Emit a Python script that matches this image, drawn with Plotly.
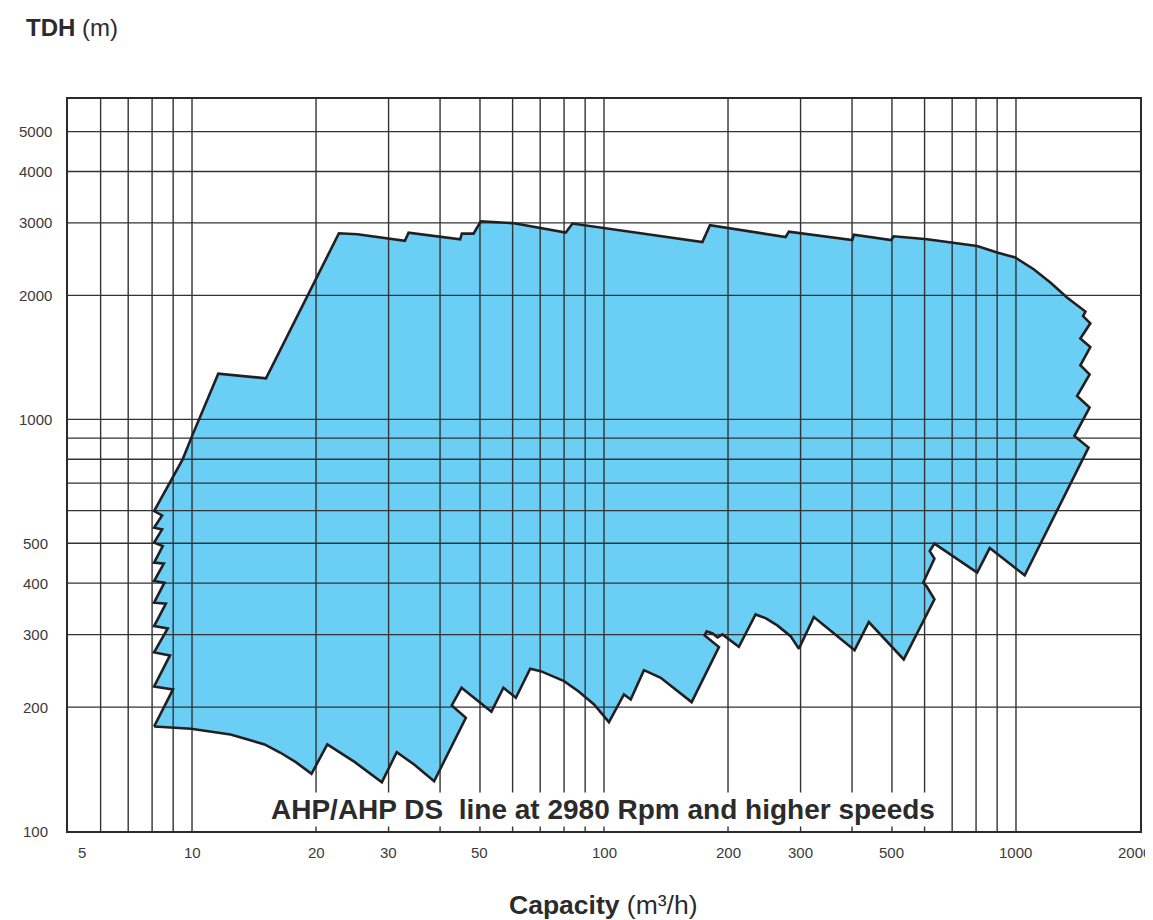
import math
import plotly.graph_objects as go

# ---- Data ----
# Operating envelope outline: capacity (m3/h) and TDH (m), clockwise from lower-left
capacity = [
    8.09, 8.99, 8.09, 8.84, 8.09, 8.73, 8.09, 8.64, 8.09, 8.57, 8.09, 8.54, 8.09, 8.49,
    8.09, 8.46, 8.09, 8.46, 8.09,
    9.49, 10.04, 11.58, 15.12, 22.73, 25.2,
    32.86, 33.55, 44.75, 45.18, 48.23, 50.23, 60.47, 80.76, 83.84, 173.3, 180.8,
    275.9, 281.0, 400.5, 404.1, 498.0, 505.0, 608.6, 706.2, 804.9, 900.0, 996.6,
    1104, 1212, 1330, 1474,
    1455, 1515, 1433, 1515, 1433, 1509, 1407, 1509, 1386, 1500,
    1050, 863.5, 804.9, 634.0, 617.5, 634.0, 595.2, 606.3, 634.0,
    534.0, 439.3, 405.7, 323.1, 297.2, 283.7, 263.4, 246.7, 233.3,
    212.5, 193.8, 188.7, 183.5, 177.5, 175.5, 190.1,
    163.2, 137.3, 125.0, 116.1, 111.8, 102.8, 94.6, 86.8, 80.0, 70.2, 66.2,
    61.1, 57.0, 53.3, 45.1, 42.7, 46.2,
    38.7, 34.6, 31.4, 28.9, 24.8, 21.3, 19.5, 17.9, 16.4, 15.0, 12.4, 9.94,
]
head = [
    179.4, 220.8, 224.5, 267.0, 271.5, 310.5, 314.6, 356.6, 358.6, 401.1, 404.6, 446.0, 448.6, 492.2,
    501.8, 540.3, 545.5, 584.4, 598.7,
    799.5, 919.3, 1291, 1258, 2831, 2816,
    2713, 2842, 2738, 2826, 2826, 3028, 2994, 2842, 2989, 2697, 2961,
    2773, 2858, 2727, 2810, 2727, 2784, 2738, 2688, 2637, 2542, 2472,
    2315, 2149, 1976, 1827,
    1782, 1711, 1571, 1498, 1353, 1286, 1139, 1068, 910.9, 853.8,
    417.8, 486.7, 424.1, 498.9, 478.6, 458.7, 401.1, 393.4, 365.3,
    261.1, 321.7, 275.0, 330.8, 277.2, 297.4, 315.8, 328.9, 335.8,
    280.3, 300.3, 295.3, 302.0, 305.4, 298.6, 279.7,
    205.6, 235.6, 245.9, 208.7, 214.6, 183.8, 203.0, 218.3, 231.2, 244.5, 247.9,
    210.7, 222.8, 194.9, 222.8, 201.8, 188.4,
    132.1, 145.1, 155.4, 131.4, 147.2, 162.3, 137.7, 146.8, 154.9, 162.3, 171.6, 177.2,
]

x_range = [5, 2000]
y_range = [100, 6000]
x_grid = [6, 7, 8, 9, 10, 20, 30, 40, 50, 60, 70, 80, 90, 100,
          200, 300, 400, 500, 600, 700, 800, 900, 1000]
y_grid = [200, 300, 400, 500, 600, 700, 800, 900, 1000, 2000, 3000, 4000, 5000]
x_tick_vals = [5, 10, 20, 30, 50, 100, 200, 300, 500, 1000, 2000]
x_tick_text = ["5", "10", "20", "30", "50", "100", "200", "300", "500", "1000", "2000"]
y_tick_vals = [100, 200, 300, 400, 500, 1000, 2000, 3000, 4000, 5000]
y_tick_text = ["100", "200", "300", "400", "500", "1000", "2000", "3000", "4000", "5000"]

note_text = "AHP/AHP DS\u00a0 line at 2980 Rpm and higher speeds"

# ---- Figure ----
fig = go.Figure()

poly_x = capacity + [capacity[0]]
poly_y = head + [head[0]]

fig.add_trace(go.Scatter(
    x=poly_x, y=poly_y, mode="lines", fill="toself",
    fillcolor="#6ACEF5", line=dict(width=0, color="#6ACEF5"),
    hoverinfo="skip", showlegend=False,
))

gx, gy = [], []
for v in x_grid:
    gx += [v, v, None]
    gy += [y_range[0], y_range[1], None]
for v in y_grid:
    gx += [x_range[0], x_range[1], None]
    gy += [v, v, None]
fig.add_trace(go.Scatter(
    x=gx, y=gy, mode="lines", line=dict(color="#333333", width=1.4),
    hoverinfo="skip", showlegend=False,
))

fig.add_trace(go.Scatter(
    x=poly_x, y=poly_y, mode="lines",
    line=dict(color="#231F20", width=2.6),
    hoverinfo="skip", showlegend=False,
))

tick_font = dict(family="Liberation Sans Narrow, Arial Narrow, Liberation Sans, sans-serif",
                 size=15, color="#3a3a3a")
ann = []
n_x = len(x_tick_vals)
for i, (v, t) in enumerate(zip(x_tick_vals, x_tick_text)):
    shift = 14 if i == 0 else (-6 if i == n_x - 1 else 0)
    ann.append(dict(x=math.log10(v), y=-0.0287, xref="x", yref="paper", text=t,
                    showarrow=False, xanchor="center", yanchor="middle",
                    xshift=shift, font=tick_font))
for v, t in zip(y_tick_vals, y_tick_text):
    ann.append(dict(x=-0.0299, y=math.log10(v), xref="paper", yref="y", text=t,
                    showarrow=False, xanchor="center", yanchor="middle", font=tick_font))

ann.append(dict(x=-0.041, y=1.097, xref="paper", yref="paper",
                text="<b>TDH</b> (m)", showarrow=False, xanchor="left", yanchor="middle",
                font=dict(family="Liberation Sans, Arial, sans-serif", size=24, color="#2b2b2b")))
ann.append(dict(x=0.499, y=-0.101, xref="paper", yref="paper",
                text="<b>Capacity</b> (m\u00b3/h)", showarrow=False, xanchor="center",
                yanchor="middle",
                font=dict(family="Liberation Sans, Arial, sans-serif", size=26.5, color="#2b2b2b")))
ann.append(dict(x=0.499, y=0.030, xref="paper", yref="paper",
                text="<b>" + note_text + "</b>", showarrow=False, xanchor="center",
                yanchor="middle", bgcolor="white", borderpad=1,
                font=dict(family="Liberation Sans, Arial, sans-serif", size=28, color="#2b2b2b")))

axis_common = dict(type="log", showgrid=False, zeroline=False, showticklabels=False,
                   ticks="", showline=True, mirror=True, linecolor="#2b2b2b", linewidth=1.5)

# The page body has an 8px default margin, so the figure is sized to fit the window.
fig.update_layout(
    width=1145, height=912,
    margin=dict(l=60, r=13, t=91, b=89),
    paper_bgcolor="white", plot_bgcolor="white",
    xaxis=dict(range=[math.log10(x_range[0]), math.log10(x_range[1])], **axis_common),
    yaxis=dict(range=[math.log10(y_range[0]), math.log10(y_range[1])], **axis_common),
    annotations=ann,
    showlegend=False,
)

fig.write_html("out.html")
